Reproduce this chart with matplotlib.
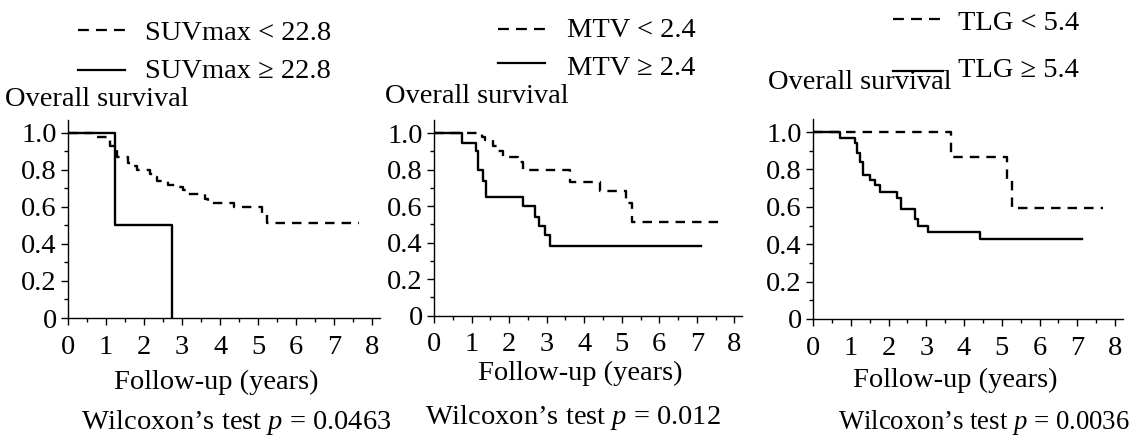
import matplotlib
matplotlib.use("Agg")
import matplotlib.pyplot as plt
from matplotlib.lines import Line2D
from matplotlib.ticker import MultipleLocator

plt.rcParams['font.family'] = ['Liberation Serif', 'DejaVu Serif']
plt.rcParams['mathtext.fontset'] = 'custom'
plt.rcParams['mathtext.rm'] = 'Liberation Serif'
plt.rcParams['mathtext.it'] = 'Liberation Serif:italic'

# ---- data ----
# Panel 1: SUVmax
suv_low_t = [0, 0.66, 1.02, 1.10, 1.24, 1.30, 1.59, 1.72, 1.82, 2.16, 2.25, 2.33, 2.64, 2.90,
             3.03, 3.12, 3.60, 3.69, 4.35, 5.10, 5.23, 7.64]
suv_low_s = [1.0, 0.98, 0.96, 0.93, 0.91, 0.87, 0.84, 0.82, 0.80, 0.78, 0.76, 0.74, 0.72, 0.71,
             0.69, 0.67, 0.645, 0.62, 0.60, 0.57, 0.515, 0.515]
suv_high_t = [0, 1.24, 2.73]
suv_high_s = [1.0, 0.5, 0.0]

# Panel 2: MTV
mtv_low_t = [0, 1.27, 1.36, 1.57, 1.70, 1.83, 2.23, 2.37, 3.62, 4.41, 5.12, 5.28, 7.69]
mtv_low_s = [1.0, 0.98, 0.96, 0.93, 0.90, 0.87, 0.84, 0.80, 0.734, 0.685, 0.616, 0.513, 0.513]
mtv_high_t = [0, 0.74, 1.13, 1.18, 1.31, 1.38, 2.36, 2.69, 2.80, 2.96, 3.10, 7.12]
mtv_high_s = [1.0, 0.945, 0.90, 0.80, 0.74, 0.65, 0.60, 0.54, 0.49, 0.44, 0.38, 0.38]

# Panel 3: TLG
tlg_low_t = [0, 3.65, 5.13, 5.28, 7.68]
tlg_low_s = [1.0, 0.868, 0.743, 0.595, 0.595]
tlg_high_t = [0, 0.71, 1.11, 1.17, 1.25, 1.33, 1.51, 1.64, 1.77, 2.22, 2.33, 2.70, 2.79, 3.05, 4.41, 7.12]
tlg_high_s = [1.0, 0.97, 0.94, 0.886, 0.84, 0.77, 0.743, 0.717, 0.68, 0.645, 0.59, 0.533, 0.497, 0.467, 0.428, 0.428]

legend_low = ["SUVmax < 22.8", "MTV < 2.4", "TLG < 5.4"]
legend_high = ["SUVmax \u2265 22.8", "MTV \u2265 2.4", "TLG \u2265 5.4"]
pvalues = ["0.0463", "0.012", "0.0036"]
x_ticks = [0, 1, 2, 3, 4, 5, 6, 7, 8]
y_ticks = [0, 0.2, 0.4, 0.6, 0.8, 1.0]
y_tick_labels = ["0", "0.2", "0.4", "0.6", "0.8", "1.0"]
y_title = "Overall survival"
x_title = "Follow-up (years)"

W, H = 1133, 438
fig = plt.figure(figsize=(W / 100, H / 100), dpi=100)

FS = 20.5

def px(x, y):
    return x / W, 1 - y / H

# axes rects in pixels: left, top(of ylim), right(of xlim), bottom(y=0)
rects = [(68, 120, 380, 318), (434, 120.4, 742, 315.7), (813, 119, 1122.6, 319)]
curves = [((suv_low_t, suv_low_s), (suv_high_t, suv_high_s)),
          ((mtv_low_t, mtv_low_s), (mtv_high_t, mtv_high_s)),
          ((tlg_low_t, tlg_low_s), (tlg_high_t, tlg_high_s))]

# text/legend placements (pixels; text y are baselines)
leg_line_x = [(78, 125), (498, 545), (893, 943)]
leg_line_y1 = [30, 29, 19]
leg_line_y2 = [70, 63, 71]
leg_text_x = [145, 567, 958]
leg_y1 = [40, 37, 30]
leg_y2 = [78, 75, 77]
ytitle_pos = [(5, 106), (385, 103), (768, 89)]
xtitle_pos = [(216, 389), (580, 380), (955, 387)]
wil_pos = [(236, 429), (573, 424), (1130, 429)]
wil_ha = ['center', 'center', 'right']
wil_fs = [FS, FS, 19.3]

for i in range(3):
    l, t, r, b = rects[i]
    ax = fig.add_axes([l / W, (H - b) / H, (r - l) / W, (b - t) / H])
    (lt, ls), (ht, hs) = curves[i]
    ax.step(lt, ls, where='post', color='black', lw=1.7, linestyle=(0, (4, 3)))
    ax.step(ht, hs, where='post', color='black', lw=1.7)
    ax.set_xlim(0, 8.2)
    ax.set_ylim(0, 1.07)
    for s in ['top', 'right']:
        ax.spines[s].set_visible(False)
    for s in ['left', 'bottom']:
        ax.spines[s].set_linewidth(1.0)
    ax.set_xticks(x_ticks)
    ax.set_xticklabels([str(v) for v in x_ticks])
    ax.xaxis.set_minor_locator(MultipleLocator(0.5))
    ax.set_yticks(y_ticks)
    ax.set_yticklabels(y_tick_labels)
    ax.yaxis.set_minor_locator(MultipleLocator(0.1))
    ax.tick_params(axis='both', which='major', direction='out', length=5, width=1.0,
                   labelsize=FS, pad=3)
    ax.tick_params(axis='x', which='major', pad=7)
    ax.tick_params(axis='both', which='minor', direction='out', length=3, width=1.0)
    ax.patch.set_alpha(0)

    # legend
    x0, x1 = leg_line_x[i]
    fig.add_artist(Line2D([x0 / W, x1 / W], [1 - leg_line_y1[i] / H] * 2, color='black', lw=1.6,
                          linestyle=(0, (4.9, 3.2))))
    fig.add_artist(Line2D([x0 / W, x1 / W], [1 - leg_line_y2[i] / H] * 2, color='black', lw=1.6))
    fig.text(*px(leg_text_x[i], leg_y1[i]), legend_low[i], fontsize=FS, ha='left', va='baseline')
    fig.text(*px(leg_text_x[i], leg_y2[i]), legend_high[i], fontsize=FS, ha='left', va='baseline')
    fig.text(*px(*ytitle_pos[i]), y_title, fontsize=FS, ha='left', va='baseline')
    fig.text(*px(*xtitle_pos[i]), x_title, fontsize=FS, ha='center', va='baseline')
    fig.text(*px(*wil_pos[i]), "Wilcoxon\u2019s test $p$ = " + pvalues[i], fontsize=wil_fs[i],
             ha=wil_ha[i], va='baseline')

fig.savefig("out.png", dpi=100)
